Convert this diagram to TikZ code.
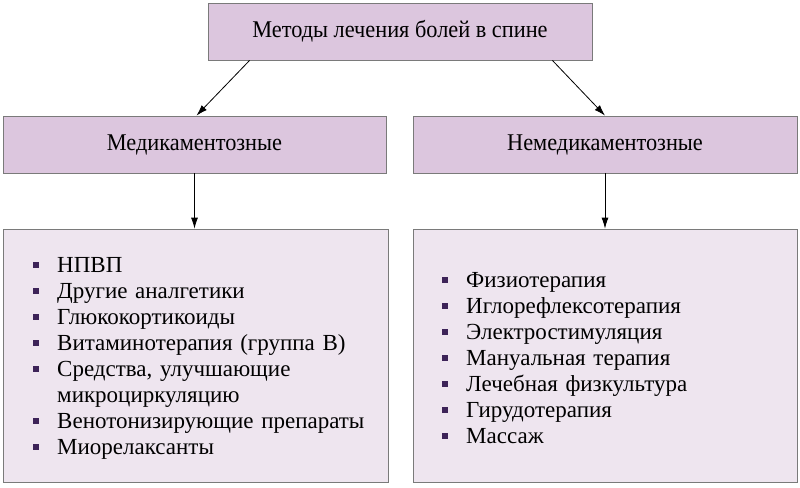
\documentclass[tikz,border=0pt]{standalone}
\usepackage{fontspec}
\setmainfont{Liberation Serif}
\newfontfamily\headfont[FakeStretch=0.93]{Liberation Serif}
\usepackage{enumitem}
\usetikzlibrary{arrows.meta}
\definecolor{headfill}{HTML}{DCC6DE}
\definecolor{listfill}{HTML}{EEE5EF}
\definecolor{boxline}{HTML}{7A7A7A}
\definecolor{bulletcol}{HTML}{3D2358}
\newcommand{\sqbullet}{\textcolor{bulletcol}{\rule[0.2em]{6pt}{6pt}}}
\tikzset{
  headbox/.style={draw=boxline, fill=headfill, line width=0.8pt, minimum height=57pt,
    font=\headfont\fontsize{24}{28}\selectfont},
  listbox/.style={draw=boxline, fill=listfill, line width=0.8pt, minimum height=253pt},
  listtext/.style={anchor=west, inner sep=0pt, font=\fontsize{23}{26}\selectfont},
  arrow/.style={-{Latex[length=11pt,width=7pt]}, line width=0.8pt}
}
\begin{document}
\begin{tikzpicture}[x=1pt, y=-1pt]
\useasboundingbox (0,0) rectangle (800,487);
\fill[white] (0,0) rectangle (800,487);
\node[headbox, minimum width=384pt] (methods) at (400,31.5) {Методы лечения болей в спине};
\node[headbox, minimum width=383pt] (drug) at (194.5,144.5) {Медикаментозные};
\node[headbox, minimum width=384pt] (nondrug) at (605,144.5) {Немедикаментозные};
\node[listbox, minimum width=385pt] (druglist) at (195.5,355.5) {};
\node[listbox, minimum width=384pt] (nondruglist) at (605,355.5) {};
% lists
\node[listtext, text width=355pt] (drugitems) at (30,353) {%
\begin{itemize}[label=\sqbullet, leftmargin=27pt, labelsep=18pt, itemsep=0pt, parsep=0pt, topsep=0pt]
\item НПВП
\item Другие аналгетики
\item Глюкокортикоиды
\item Витаминотерапия (группа В)
\item Средства, улучшающие\\микроциркуляцию
\item Венотонизирующие препараты
\item Миорелаксанты
\end{itemize}};
\node[listtext, text width=340pt] (nondrugitems) at (439,353) {%
\begin{itemize}[label=\sqbullet, leftmargin=27pt, labelsep=18pt, itemsep=0pt, parsep=0pt, topsep=0pt]
\item Физиотерапия
\item Иглорефлексотерапия
\item Электростимуляция
\item Мануальная терапия
\item Лечебная физкультура
\item Гирудотерапия
\item Массаж
\end{itemize}};
% arrows
\draw[arrow] ([xshift=42pt]methods.south west) -- ([xshift=2pt]drug.north);
\draw[arrow] ([xshift=-40pt]methods.south east) -- (nondrug.north);
\draw[arrow] (drug.south) -- (drug.south |- druglist.north);
\draw[arrow] (nondrug.south) -- (nondruglist.north);
\end{tikzpicture}
\end{document}
